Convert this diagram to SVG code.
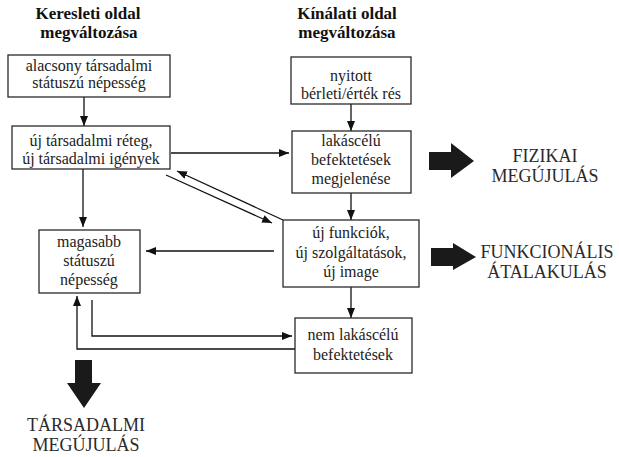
<svg xmlns="http://www.w3.org/2000/svg" width="619" height="457" viewBox="0 0 619 457">
  <defs>
    <style>
      .box { fill: #fff; stroke: #2a2a2a; stroke-width: 1.3; }
      .t { font-family: 'Liberation Serif', 'DejaVu Serif', serif; font-size: 16px; fill: #222; text-anchor: middle; }
      .h { font-family: 'Liberation Serif', 'DejaVu Serif', serif; font-size: 17px; font-weight: bold; fill: #111; text-anchor: middle; }
      .big { font-family: 'Liberation Serif', 'DejaVu Serif', serif; font-size: 18px; fill: #2a2a2a; text-anchor: middle; }
      .ln { fill: none; stroke: #111; stroke-width: 1.3; }
      .fat { fill: #1a1a1a; }
    </style>
    <marker id="ah" viewBox="0 0 10 8" refX="10" refY="4" markerWidth="10" markerHeight="8" markerUnits="userSpaceOnUse" orient="auto">
      <path d="M0,0 L10,4 L0,8 Z" fill="#111"/>
    </marker>
  </defs>

  <!-- column headings -->
  <g id="head-demand">
    <text class="h" x="88" y="19">Keresleti oldal</text>
    <text class="h" x="89" y="38">megváltozása</text>
  </g>
  <g id="head-supply">
    <text class="h" x="347" y="19">Kínálati oldal</text>
    <text class="h" x="347" y="38">megváltozása</text>
  </g>

  <!-- connectors -->
  <g id="connectors">
    <line class="ln" x1="84" y1="97" x2="84" y2="126" marker-end="url(#ah)"/>
    <line class="ln" x1="351" y1="104" x2="351" y2="131" marker-end="url(#ah)"/>
    <line class="ln" x1="171" y1="153" x2="289" y2="153" marker-end="url(#ah)"/>
    <line class="ln" x1="351" y1="193" x2="351" y2="220" marker-end="url(#ah)"/>
    <line class="ln" x1="283" y1="220" x2="177" y2="171" marker-end="url(#ah)"/>
    <line class="ln" x1="166" y1="175" x2="272" y2="223" marker-end="url(#ah)"/>
    <line class="ln" x1="274" y1="251" x2="146" y2="251" marker-end="url(#ah)"/>
    <line class="ln" x1="83" y1="169" x2="83" y2="227" marker-end="url(#ah)"/>
    <line class="ln" x1="351" y1="287" x2="351" y2="318" marker-end="url(#ah)"/>
    <polyline class="ln" points="92,300 92,336 292,336" marker-end="url(#ah)"/>
    <polyline class="ln" points="295,349 77,349 77,296" marker-end="url(#ah)"/>
  </g>

  <!-- demand side nodes -->
  <g id="low-status">
    <rect class="box" x="8" y="55" width="162" height="42"/>
    <text class="t" x="89" y="71">alacsony társadalmi</text>
    <text class="t" x="89" y="88">státuszú népesség</text>
  </g>
  <g id="new-layer">
    <rect class="box" x="12" y="126" width="158" height="43"/>
    <text class="t" x="91" y="146">új társadalmi réteg,</text>
    <text class="t" x="91" y="164">új társadalmi igények</text>
  </g>
  <g id="high-status">
    <rect class="box" x="39" y="230" width="101" height="63"/>
    <text class="t" x="89" y="247">magasabb</text>
    <text class="t" x="89" y="266">státuszú</text>
    <text class="t" x="89" y="285">népesség</text>
  </g>

  <!-- supply side nodes -->
  <g id="rent-gap">
    <rect class="box" x="291" y="57" width="120" height="47"/>
    <text class="t" x="351" y="81">nyitott</text>
    <text class="t" x="351" y="99">bérleti/érték rés</text>
  </g>
  <g id="housing-invest">
    <rect class="box" x="292" y="131" width="119" height="62"/>
    <text class="t" x="351" y="146">lakáscélú</text>
    <text class="t" x="351" y="165">befektetések</text>
    <text class="t" x="351" y="184">megjelenése</text>
  </g>
  <g id="new-functions">
    <rect class="box" x="283" y="220" width="136" height="67"/>
    <text class="t" x="351" y="238">új funkciók,</text>
    <text class="t" x="351" y="258">új szolgáltatások,</text>
    <text class="t" x="351" y="277">új image</text>
  </g>
  <g id="non-housing-invest">
    <rect class="box" x="295" y="318" width="117" height="55"/>
    <text class="t" x="353" y="340">nem lakáscélú</text>
    <text class="t" x="353" y="360">befektetések</text>
  </g>

  <!-- outcomes -->
  <g id="physical-renewal">
    <polygon class="fat" points="429,152 451,152 451,143 474,161 451,178 451,170 429,170"/>
    <text class="big" x="545" y="162">FIZIKAI</text>
    <text class="big" x="545" y="182">MEGÚJULÁS</text>
  </g>
  <g id="functional-change">
    <polygon class="fat" points="431,248 453,248 453,243 476,257 453,270 453,266 431,266"/>
    <text class="big" x="547" y="258">FUNKCIONÁLIS</text>
    <text class="big" x="547" y="278">ÁTALAKULÁS</text>
  </g>
  <g id="social-renewal">
    <polygon class="fat" points="75,360 92,360 92,383 101,383 84,408 67,383 75,383"/>
    <text class="big" x="86" y="431">TÁRSADALMI</text>
    <text class="big" x="86" y="451">MEGÚJULÁS</text>
  </g>
</svg>
